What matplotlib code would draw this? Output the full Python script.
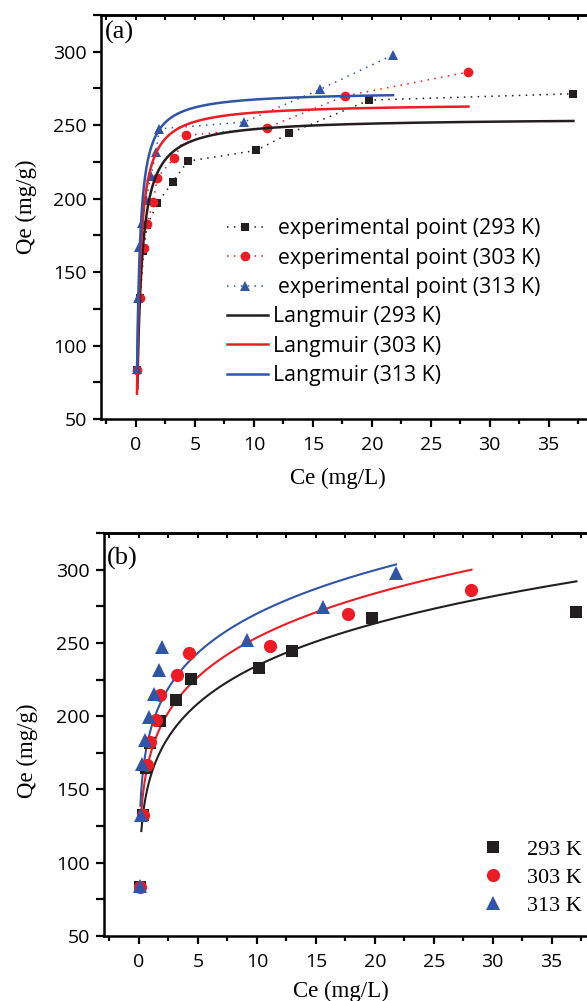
import numpy as np
import matplotlib
matplotlib.use('Agg')
import matplotlib.pyplot as plt
from matplotlib.ticker import MultipleLocator

# ---------------- data ----------------
temps = ['293 K', '303 K', '313 K']
ce_293 = [0.06, 0.34, 0.6, 0.97, 1.8, 3.1, 4.4, 10.2, 13.0, 19.8, 37.1]
qe_293 = [83.6, 132.4, 164.5, 182.0, 196.7, 211.2, 225.5, 232.8, 244.4, 267.1, 271.4]
ce_303 = [0.06, 0.34, 0.71, 0.9, 1.47, 1.8, 3.26, 4.24, 11.1, 17.7, 28.2]
qe_303 = [83.4, 132.4, 166.5, 182.4, 197.6, 214.2, 227.8, 243.0, 248.2, 269.8, 286.2]
ce_313 = [0.06, 0.2, 0.29, 0.48, 0.85, 1.27, 1.7, 1.98, 9.16, 15.6, 21.8]
qe_313 = [84.0, 132.4, 167.2, 183.5, 199.4, 215.3, 231.7, 247.5, 252.1, 274.3, 297.8]

# fitted model parameters (estimated from drawn curves)
langmuir_qm = [255.0, 265.0, 273.0]
langmuir_kl = [3.2, 4.0, 4.8]
langmuir_cmin = [0.12, 0.085, 0.09]
freundlich_kf = [159.3, 174.8, 191.0]
freundlich_inv_n = [0.1677, 0.1617, 0.1503]
freundlich_cmin = [0.2, 0.15, 0.12]

x_ticks = [0, 5, 10, 15, 20, 25, 30, 35]
y_ticks = [50, 100, 150, 200, 250, 300]

colors = ['#231f20', '#ed1c24', '#3055a5']
markers = ['s', 'o', '^']
ce_all = [ce_293, ce_303, ce_313]
qe_all = [qe_293, qe_303, qe_313]

SANS = ['Open Sans', 'DejaVu Sans']
SERIF = ['Liberation Serif', 'DejaVu Serif']

W, H = 587, 1001
fig = plt.figure(figsize=(W / 100, H / 100), dpi=100)

def style_axes(ax):
    ax.set_xlim(-3, 40)
    ax.set_ylim(50, 325)
    ax.set_xticks(x_ticks)
    ax.set_yticks(y_ticks)
    ax.xaxis.set_minor_locator(MultipleLocator(2.5))
    ax.yaxis.set_minor_locator(MultipleLocator(25))
    ax.tick_params(axis='both', which='major', direction='out', length=6, width=1.6,
                   labelsize=14, top=False, right=False)
    ax.tick_params(axis='x', which='major', pad=6)
    ax.tick_params(axis='y', which='major', pad=4)
    ax.tick_params(axis='x', which='minor', direction='out', length=3.5, width=1.6,
                   top=False)
    ax.tick_params(axis='y', which='minor', direction='out', length=6, width=1.6,
                   right=False)
    for lab in ax.get_xticklabels() + ax.get_yticklabels():
        lab.set_family(SANS)
    for s in ['left', 'bottom', 'top']:
        ax.spines[s].set_linewidth(1.8)
    ax.spines['right'].set_visible(False)
    sec = ax.secondary_xaxis('top')
    sec.set_xticks(np.arange(-2.5, 40, 2.5))
    sec.tick_params(direction='in', length=3.5, width=1.4, labeltop=False)
    sec.spines['top'].set_linewidth(1.8)
    ax.set_xlabel('Ce (mg/L)', family=SERIF, fontsize=16.5)
    ax.set_ylabel('Qe (mg/g)', family=SERIF, fontsize=16.5)

# ---------------- panel (a) ----------------
ax1 = fig.add_axes([100.6 / W, (H - 419) / H, 507 / W, 404 / H])
style_axes(ax1)
ms_a = [6, 7, 7.5]
exp_handles = []
for i in range(3):
    h, = ax1.plot(ce_all[i], qe_all[i], linestyle=(0, (1, 3.5)), lw=1.1,
                  color=colors[i], marker=markers[i], ms=ms_a[i],
                  markeredgewidth=0, label='experimental point (%s)' % temps[i])
    exp_handles.append(h)
lang_handles = []
for i in range(3):
    c = np.geomspace(langmuir_cmin[i], max(ce_all[i]), 400)
    q = langmuir_qm[i] * langmuir_kl[i] * c / (1 + langmuir_kl[i] * c)
    h, = ax1.plot(c, q, '-', lw=1.8, color=colors[i], label='Langmuir (%s)' % temps[i])
    lang_handles.append(h)

ax1.text(0.008, 0.958, '(a)', transform=ax1.transAxes, family=SERIF, fontsize=19,
         ha='left', va='center')
ax1.xaxis.set_label_coords(0.468, -0.122)
ax1.yaxis.set_label_coords(-0.125, 0.525)

LEG_FS = 15.3
leg1 = ax1.legend(handles=exp_handles, loc='upper left',
                  bbox_to_anchor=(227 / W, 1 - 218 / H), bbox_transform=fig.transFigure,
                  frameon=False, borderpad=0, borderaxespad=0, handlelength=1.7,
                  handletextpad=0.7, labelspacing=0.41, numpoints=1,
                  prop={'family': SANS, 'size': LEG_FS})
ax1.add_artist(leg1)
leg2 = ax1.legend(handles=lang_handles, loc='upper left',
                  bbox_to_anchor=(227 / W, 1 - 306 / H), bbox_transform=fig.transFigure,
                  frameon=False, borderpad=0, borderaxespad=0, handlelength=1.93,
                  handletextpad=0.24, labelspacing=0.41,
                  prop={'family': SANS, 'size': LEG_FS})

# ---------------- panel (b) ----------------
ax2 = fig.add_axes([103.6 / W, 65 / H, 507 / W, 403 / H])
style_axes(ax2)
for i in range(3):
    c = np.geomspace(freundlich_cmin[i], max(ce_all[i]), 400)
    q = freundlich_kf[i] * c ** freundlich_inv_n[i]
    ax2.plot(c, q, '-', lw=1.5, color=colors[i])
ms_b = [8.5, 9.5, 10]
pt_handles = []
for i in range(3):
    h, = ax2.plot(ce_all[i], qe_all[i], linestyle='none', color=colors[i],
                  marker=markers[i], ms=ms_b[i], markeredgewidth=0, label=temps[i])
    pt_handles.append(h)
ax2.text(0.006, 0.937, '(b)', transform=ax2.transAxes, family=SERIF, fontsize=19,
         ha='left', va='center')
ax2.xaxis.set_label_coords(0.468, -0.112)
ax2.yaxis.set_label_coords(-0.13, 0.46)
ax2.legend(handles=pt_handles, loc='upper left',
           bbox_to_anchor=(471 / W, 1 - 839 / H), bbox_transform=fig.transFigure,
           frameon=False, borderpad=0, borderaxespad=0, handlelength=2.0,
           handletextpad=0.5, labelspacing=0.35, numpoints=1,
           prop={'family': SERIF, 'size': 16})

fig.savefig('out.png', dpi=100)
